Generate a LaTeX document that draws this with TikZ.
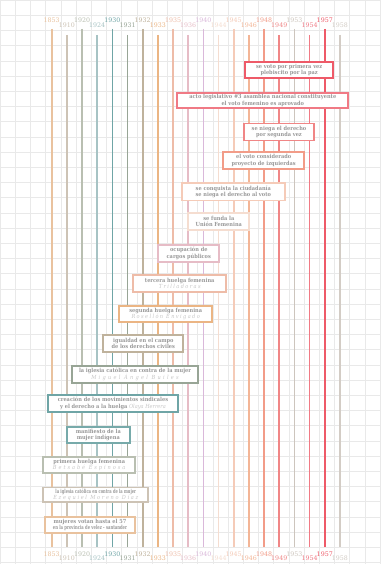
\documentclass[tikz,border=0pt]{standalone}
\usepackage{fontspec}
\setmainfont{DejaVu Serif}
\newfontfamily\boxfont{DejaVu Serif Condensed}
\newfontfamily\yearfont{DejaVu Serif}
\newcommand{\nm}[2]{{\mdseries\addfontfeatures{LetterSpace=#1}\itshape\color{namegray}#2}}
\definecolor{c1}{HTML}{E9C29E}
\definecolor{c2}{HTML}{CDC3B5}
\definecolor{c3}{HTML}{B9BFB1}
\definecolor{c4}{HTML}{A7C3C4}
\definecolor{c5}{HTML}{6FA5A6}
\definecolor{c6}{HTML}{98A596}
\definecolor{c7}{HTML}{BFB29C}
\definecolor{c8}{HTML}{EBB584}
\definecolor{c9}{HTML}{EEBCA8}
\definecolor{c10}{HTML}{E6BCC6}
\definecolor{c11}{HTML}{DAB8DA}
\definecolor{c12}{HTML}{F5DDD0}
\definecolor{c13}{HTML}{F5CBB8}
\definecolor{c14}{HTML}{F3B596}
\definecolor{c15}{HTML}{F29C88}
\definecolor{c16}{HTML}{F08686}
\definecolor{c17}{HTML}{CDC5BD}
\definecolor{c18}{HTML}{F07A85}
\definecolor{c19}{HTML}{EE5A68}
\definecolor{c20}{HTML}{D3CCC5}
\definecolor{txtgray}{HTML}{999999}
\definecolor{namegray}{HTML}{C6C6C6}
\definecolor{gridc}{HTML}{E9E9E9}
\begin{document}
\begin{tikzpicture}[x=1pt,y=-1pt,
  gridl/.style={draw=gridc,line width=0.5pt},
  yrline/.style={line width=1.6pt},
  yearlbl/.style={font=\yearfont\fontsize{6.3}{7}\selectfont,inner sep=0pt},
  evbox/.style={draw,fill=white,line width=1.8pt,inner sep=0pt,align=center,
    text=txtgray,font=\boxfont\bfseries\fontsize{5.6}{6.2}\selectfont}]
\useasboundingbox (0,0) rectangle (380,564);
\fill[white] (0,0) rectangle (380,564);
\foreach \i in {0,...,25} \draw[gridl] (\i*15.2,0) -- (\i*15.2,564);
\foreach \j in {0,...,37} \draw[gridl] (0,\j*15.2) -- (380,\j*15.2);
\foreach \yr/\col [count=\i from 0] in {1853/c1,1910/c2,1920/c3,1924/c4,1930/c5,1931/c6,1932/c7,1933/c8,1935/c9,1936/c10,1940/c11,1944/c12,1945/c13,1946/c14,1948/c15,1949/c16,1953/c17,1954/c18,1957/c19,1958/c20}{
  \pgfmathsetmacro\xx{51.7+\i*15.17}
  \pgfmathsetmacro\ty{ifthenelse(mod(\i,2)==0,20.5,25)}
  \pgfmathsetmacro\by{ifthenelse(mod(\i,2)==0,554.5,558.5)}
  \pgfmathsetmacro\tl{ifthenelse(mod(\i,2)==0,29,35)}
  \node[yearlbl,text=\col] (t\i) at (\xx,\ty) {\yr};
  \node[yearlbl,text=\col] (b\i) at (\xx,\by) {\yr};
  \coordinate (ts\i) at (\xx,\tl);
  \coordinate (bs\i) at (\xx,547);
  \draw[yrline,draw=\col] (ts\i) -- (bs\i);
}
\node[evbox,draw=c19,minimum width=88.3,minimum height=16] (A) at (289.2,69.7)
  {se voto por primera vez\\plebiscito por la paz};
\node[evbox,draw=c18,minimum width=171,minimum height=15.6] (B) at (262.8,100.5)
  {acto legislativo \#3 asamblea nacional constituyente\\el voto femenino es aprovado};
\node[evbox,draw=c16,minimum width=70,minimum height=17] (C) at (279,132)
  {se niega el derecho\\por segunda vez};
\node[evbox,draw=c15,minimum width=80.7,minimum height=16.7] (D) at (263.7,160.5)
  {el voto considerado\\proyecto de izquierdas};
\node[evbox,draw=c13,minimum width=103.3,minimum height=17.5] (E) at (233.3,191.7)
  {se conquista la ciudadanía\\se niega el derecho al voto};
\node[evbox,draw=c12,minimum width=61,minimum height=16.7] (F) at (218.8,221.7)
  {se funda la\\Unión Femenina};
\node[evbox,draw=c10,minimum width=61,minimum height=16.7] (G) at (188.8,253.3)
  {ocupación de\\cargos públicos};
\node[evbox,draw=c9,minimum width=92.7,minimum height=16.7] (H) at (179.7,283.3)
  {tercera huelga femenina\\\nm{25}{Trilladoras}};
\node[evbox,draw=c8,minimum width=92.7,minimum height=16.7] (I) at (165.7,314)
  {segunda huelga femenina\\\nm{25}{Rosellón Envigado}};
\node[evbox,draw=c7,minimum width=80,minimum height=16.7] (J) at (143.3,343.3)
  {igualdad en el campo\\de los derechos civiles};
\node[evbox,draw=c6,minimum width=126.7,minimum height=16.7] (K) at (135,374.3)
  {la iglesia católica en contra de la mujer\\\nm{40}{Miguel Ángel Builes}};
\node[evbox,draw=c5,minimum width=129.3,minimum height=16.7] (L) at (113,403.3)
  {creación de los movimientos sindicales\\y el derecho a la huelga \nm{0}{Olaya Herrera}};
\node[evbox,draw=c5!85!c4,minimum width=63.3,minimum height=16.7] (M) at (98.3,435)
  {manifiesto de la\\mujer indígena};
\node[evbox,draw=c3,minimum width=91.7,minimum height=16.3] (N) at (89.2,464.8)
  {primera huelga femenina\\\nm{35}{Betsabé Espinosa}};
\node[evbox,draw=c2,minimum width=105,minimum height=14.5] (O) at (95.8,494.8)
  {\scalebox{0.72}[1]{la iglesia católica en contra de la mujer}\\\nm{30}{Ezequiel Moreno Díaz}};
\node[evbox,draw=c1,minimum width=90,minimum height=16.7] (P) at (90,525)
  {mujeres votan hasta el 57\\\scalebox{0.74}[1]{en la provincia de velez - santander}};
\end{tikzpicture}
\end{document}
